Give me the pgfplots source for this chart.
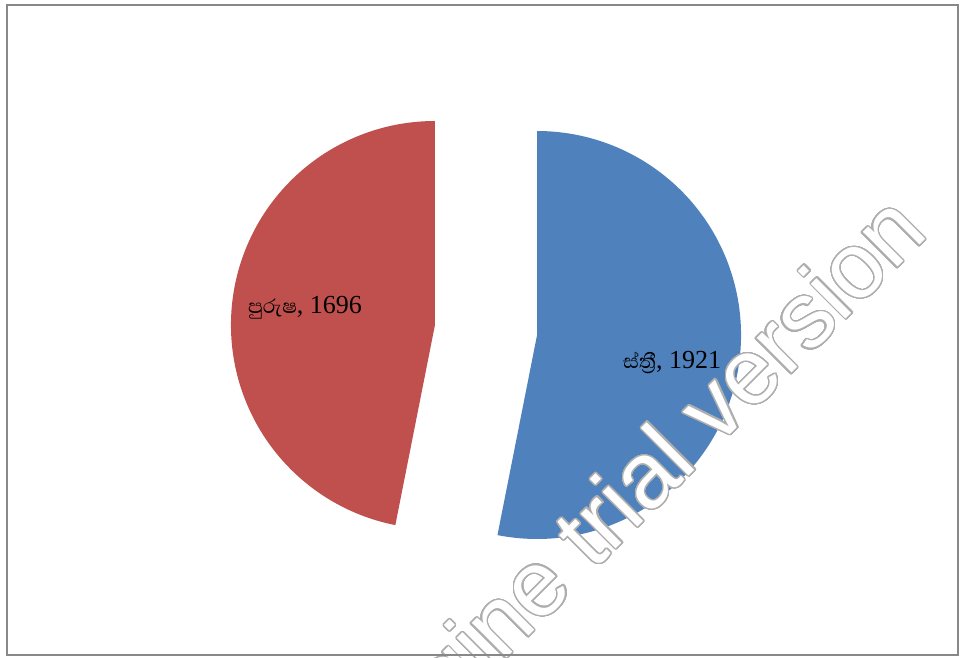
\documentclass[border=0pt]{standalone}
\usepackage{pgfplots}
\pgfplotsset{compat=1.18}
\usepackage{fontspec}
\usepackage{contour}
\setmainfont{Liberation Serif}
\newfontfamily\sinhalafont[Script=Sinhala, Scale=0.97]{Abhaya Libre}
\newfontfamily\wmfont{Liberation Sans}
\definecolor{pieRed}{HTML}{C0504D}
\definecolor{pieBlue}{HTML}{4F81BD}
\definecolor{frameGray}{HTML}{888888}
\definecolor{wmGray}{HTML}{AEAEAE}
\contourlength{1.3pt}
\contournumber{48}
% data
\def\vM{1696}% purusha (male)
\def\vF{1921}% stri (female)
\pgfmathsetmacro\aF{360*(\vF/(\vM+\vF))}
\pgfmathsetmacro\Fend{90-\aF}
\pgfmathsetmacro\Fmid{90-\aF/2}
\pgfmathsetmacro\Mend{90+(360-\aF)}
\pgfmathsetmacro\Mmid{90+(360-\aF)/2}
\def\R{204}
\def\ex{51.3}
\def\Ox{486}
\def\Oy{327}
\pgfmathsetmacro\Fx{\Ox+\ex*cos(\Fmid)}
\pgfmathsetmacro\Fy{\Oy+\ex*sin(\Fmid)}
\pgfmathsetmacro\Mx{\Ox+\ex*cos(\Mmid)}
\pgfmathsetmacro\My{\Oy+\ex*sin(\Mmid)}
\begin{document}
\begin{tikzpicture}
\begin{axis}[
  at={(0pt,0pt)}, anchor=south west,
  scale only axis, width=962pt, height=657pt,
  xmin=0, xmax=962, ymin=0, ymax=657,
  hide axis, clip=false]
\addplot[draw=none, fill=pieBlue, domain=\Fend:90, samples=150, variable=\t]
  ({\Fx+\R*cos(\t)}, {\Fy+\R*sin(\t)}) -- (axis cs:\Fx,\Fy) -- cycle;
\addplot[draw=none, fill=pieRed, domain=90:\Mend, samples=150, variable=\t]
  ({\Mx+\R*cos(\t)}, {\My+\R*sin(\t)}) -- (axis cs:\Mx,\My) -- cycle;
\node[font=\fontsize{26}{31}\selectfont, anchor=base, inner sep=0pt] at (axis cs:305,343) {{\sinhalafont පුරුෂ}, \vM};
\node[font=\fontsize{26}{31}\selectfont, anchor=base, inner sep=0pt] at (axis cs:672,288) {{\sinhalafont ස්ත්‍රී}, \vF};
\end{axis}
\node[rotate=45, anchor=base east, inner sep=0pt] at (930pt,422pt)
  {\fontsize{93}{93}\selectfont\wmfont\contour{wmGray}{\textcolor{white}{Engine trial version}}};
\draw[frameGray, line width=2pt] (7pt,652pt) rectangle (958pt,2pt);
\pgfresetboundingbox
\path[use as bounding box] (0pt,0pt) rectangle (962pt,657pt);
\end{tikzpicture}
\end{document}
